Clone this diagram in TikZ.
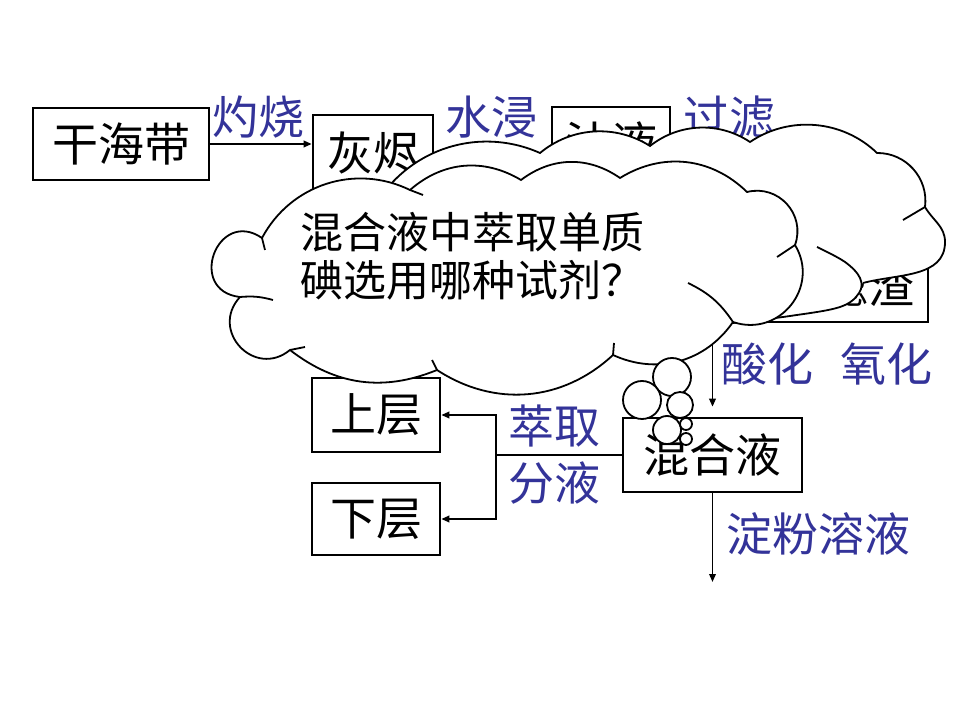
\documentclass[tikz,border=0pt]{standalone}
\usepackage{fontspec}
\setmainfont{Noto Sans CJK SC}
\usetikzlibrary{arrows.meta,positioning}
\definecolor{lblblue}{RGB}{51,51,153}
\newcommand\bigfont{\fontsize{46}{50}\selectfont}
\newcommand\qfont{\fontsize{43}{48}\selectfont}

\begin{document}
\begin{tikzpicture}[x=1pt, y=1pt,
            box/.style={draw, line width=2.6pt, inner sep=0pt, minimum height=72pt, font=\bigfont},
            lbl/.style={text=lblblue, inner sep=0pt, font=\bigfont},
            link/.style={line width=1.8pt, -{Triangle[length=8pt,width=6.5pt]}},
            puff/.style={draw, fill=white, line width=1.8pt},
            ]
            \useasboundingbox[fill=white] (0,0) rectangle (960,720);

            \node[box, minimum width=176pt] (ganhaidai) at (121,576) {干海带};
            \node[box, minimum width=120pt, minimum height=84pt] (huijin) at (373,563) {\raisebox{11pt}{灰烬}};
            \node[box, minimum width=118pt] (zhiye) at (611,577) {汁液};
            \node[box, minimum width=228pt, text width=200pt, align=right] (lvzha) at (814,434) {滤渣};
            \node[box, minimum width=179pt, minimum height=74pt] (hunheye) at (712.5,265) {混合液};
            \node[box, minimum width=128pt, minimum height=74pt] (shangceng) at (376,305) {上层};
            \node[box, minimum width=128pt] (xiaceng) at (376,201) {下层};

            \node[lbl] (zhuoshao) at (258,603) {灼烧};
            \node[lbl] (shuijin) at (491,603) {水浸};
            \node[lbl] (guolv) at (729,603) {过滤};
            \node[lbl, anchor=west] (suanhua) at (721,356) {酸化\hspace{0.6em}氧化};
            \node[lbl, align=center, font=\fontsize{46}{57}\selectfont] (cuiqu) at (554,265) {萃取\\分液};
            \node[lbl] (dianfen) at (818,186) {淀粉溶液};

            \coordinate (fork) at ([xshift=-126pt]hunheye.west);
            \coordinate (tail) at (712.5,138);
            \draw[link] (ganhaidai.east) -- (ganhaidai.east -| huijin.west);
            \draw[link] (lvzha.south -| hunheye.north) -- ([yshift=10pt]hunheye.north);
            \draw[line width=1.8pt] (hunheye.west) -- (fork);
            \draw[link] (fork) |- (shangceng.east);
            \draw[link] (fork) |- (xiaceng.east);
            \draw[link] (hunheye.south) -- (tail);

            \draw[puff] (863,437) to[out=15, in=-90] (945,478)
                to[out=90, in=-60] (925,513)
                to[bend right=49, looseness=1.03] (877,567)
                to[bend right=39, looseness=0.96] (750,578)
                to[bend right=36, looseness=0.95] (650,574)
                to[bend right=36, looseness=0.95] (540,567)
                to[bend right=44] (370,505);
            \draw[line width=1.8pt] (925,513) -- (903,500);

            \draw[puff] plot[smooth, tension=0.6] coordinates {(733,397) (790,404) (840,413) (859,427) (860,442) (845,458) (817,473)};

            \draw[puff] (262,482) to[bend right=104, looseness=2.2] (240,423)
                to[bend right=86, looseness=1.6] (290,370)
                to[bend right=30] (437,350)
                to[bend right=38] (613,365)
                to[bend right=40] (733,398)
                to[bend right=70, looseness=1.27] (795,475)
                to[bend right=62, looseness=1.16] (747,528)
                to[bend right=38] (620,542)
                to[bend right=36] (521,540)
                to[bend right=36] (410,530)
                to[bend right=44] (262,482) -- cycle;
            \draw[line width=1.8pt] (240,423) to[bend left=10] (273,420)
                (290,370) -- (305,373)
                (437,350) -- (432,360)
                (613,365) -- (614,377)
                (733,398) to[bend right=15] (688,437)
                (795,475) -- (777,463)
                (410,530) -- (423,525)
                (262,482) -- (265,470);

            \node[anchor=west, align=left, inner sep=0pt, font=\qfont] (wenti) at (300,464) {混合液中萃取单质\\碘选用哪种试剂？};

            \foreach \cx/\cy/\r in {672/343/19, 642/320/19, 680/315/13, 667/290/14, 686/296/6, 686/281/6}
                \draw[puff] (\cx,\cy) circle[radius=\r];
\end{tikzpicture}
\end{document}
